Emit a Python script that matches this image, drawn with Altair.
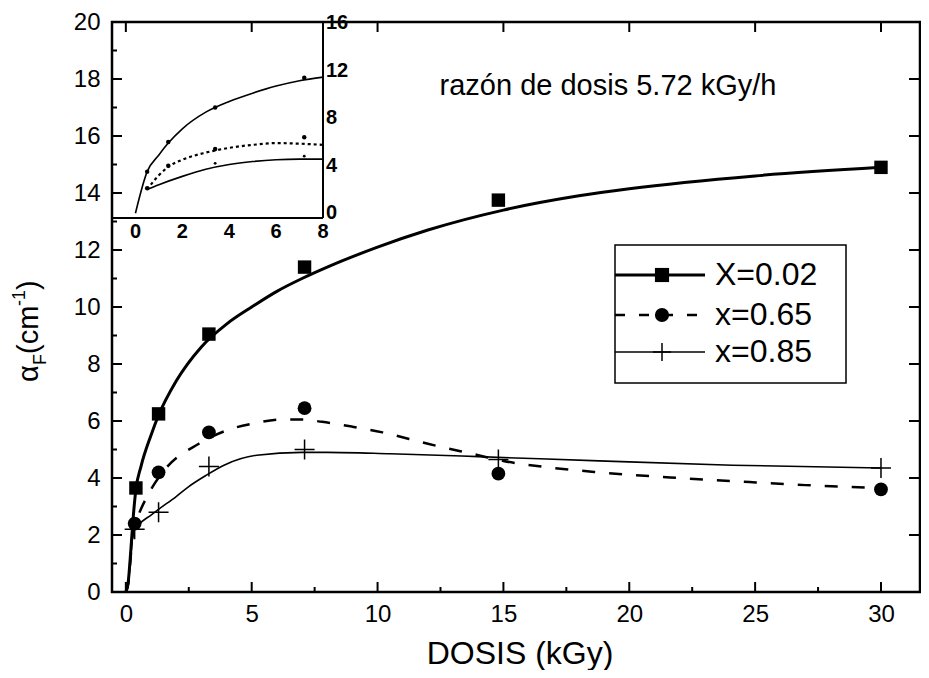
import altair as alt
import pandas as pd

FONT = "Liberation Sans"

# ---------------- data (main plot) ----------------
sq_x = [0.4, 1.3, 3.3, 7.1, 14.8, 30]
sq_y = [3.65, 6.25, 9.05, 11.4, 13.75, 14.9]
ci_x = [0.35, 1.3, 3.3, 7.1, 14.8, 30]
ci_y = [2.4, 4.2, 5.6, 6.45, 4.15, 3.6]
pl_x = [0.35, 1.3, 3.3, 7.1, 14.8, 30]
pl_y = [2.2, 2.8, 4.4, 5.0, 4.65, 4.35]

fit1_x = [0, 0.1, 0.2, 0.3, 0.4, 0.6, 1, 1.3, 2, 3, 4, 5, 6, 7, 8, 10, 12, 15, 18, 20, 25, 30]
fit1_y = [0, 0.4, 1.5, 2.7, 3.6, 4.4, 5.5, 6.2, 7.4, 8.6, 9.4, 10.0, 10.55, 11.0, 11.4, 12.1, 12.7, 13.4, 13.9, 14.15, 14.6, 14.9]
fit2_x = [0, 0.1, 0.2, 0.3, 0.5, 0.7, 1, 1.6, 2.9, 4.1, 5, 6.2, 7, 7.8, 9, 10.2, 12, 14, 15, 17, 18.8, 22, 24.9, 27, 30]
fit2_y = [0, 0.3, 1.3, 2.2, 2.7, 3.1, 3.6, 4.35, 5.2, 5.7, 5.9, 6.05, 6.05, 5.97, 5.8, 5.6, 5.2, 4.8, 4.6, 4.35, 4.2, 4.0, 3.85, 3.75, 3.65]
fit3_x = [0, 0.1, 0.2, 0.3, 0.5, 1, 1.3, 2, 2.5, 3.2, 3.9, 5.2, 7, 8, 10.5, 14, 18.8, 24.1, 30]
fit3_y = [0, 0.3, 1.3, 2.1, 2.35, 2.7, 2.9, 3.35, 3.7, 4.1, 4.45, 4.8, 4.9, 4.9, 4.85, 4.75, 4.6, 4.45, 4.35]

x_major = [0, 5, 10, 15, 20, 25, 30]
x_minor = [2.5, 7.5, 12.5, 17.5, 22.5, 27.5]
y_major = [0, 2, 4, 6, 8, 10, 12, 14, 16, 18, 20]
y_minor = [1, 3, 5, 7, 9, 11, 13, 15, 17, 19]

legend_labels = ["X=0.02", "x=0.65", "x=0.85"]
annotation = "razón de dosis 5.72 kGy/h"
x_title = "DOSIS (kGy)"

# ---------------- data (inset) ----------------
in_top_x = [0, 0.5, 1, 1.4, 2, 3, 4, 5, 6, 7, 8]
in_top_y = [0, 3.5, 4.9, 5.9, 7.1, 8.5, 9.4, 10.1, 10.7, 11.15, 11.45]
in_mid_x = [0.5, 1, 1.4, 2, 3, 4, 5, 6, 7, 8]
in_mid_y = [2.0, 3.2, 3.9, 4.5, 5.1, 5.5, 5.75, 5.9, 5.85, 5.75]
in_low_x = [0.5, 1, 2, 3, 4, 5, 6, 7, 8]
in_low_y = [2.0, 2.4, 3.1, 3.7, 4.1, 4.35, 4.5, 4.55, 4.55]
in_top_px = [0.5, 1.4, 3.4, 7.2]
in_top_py = [3.5, 6.0, 8.9, 11.4]
in_mid_px = [0.5, 1.4, 3.4, 7.2]
in_mid_py = [2.1, 4.0, 5.4, 6.4]
in_low_px = [3.4, 7.2]
in_low_py = [4.2, 4.8]
in_x_ticks = [0, 2, 4, 6, 8]
in_y_ticks = [0, 4, 8, 12, 16]

# ---------------- layout ----------------
W, H = 808, 570
xs = alt.Scale(domain=[-0.55, 31.55], nice=False, zero=False)
ys = alt.Scale(domain=[0, 20], nice=False, zero=False)
xaxis = alt.Axis(values=x_major, title=None, labelPadding=10, labelFlush=False)
yaxis = alt.Axis(values=y_major, title=None, labelPadding=12)
X = alt.X("x:Q", scale=xs, axis=xaxis)
Y = alt.Y("y:Q", scale=ys, axis=yaxis)

one = pd.DataFrame({"a": [0]})


def df(xv, yv):
    return pd.DataFrame({"x": xv, "y": yv})


def txt(text, x, y, size, angle=0, align="left", baseline="alphabetic", weight="normal"):
    return alt.Chart(one).mark_text(
        text=text, font=FONT, fontSize=size, angle=angle, align=align,
        baseline=baseline, fontWeight=weight, color="black"
    ).encode(x=alt.value(x), y=alt.value(y))


PLUS = "M-1,0H1M0,-1V1"

layers = []
# curves
layers.append(alt.Chart(df(fit1_x, fit1_y)).mark_line(color="black", strokeWidth=3, interpolate="monotone").encode(X, Y))
layers.append(alt.Chart(df(fit2_x, fit2_y)).mark_line(color="black", strokeWidth=2.5, strokeDash=[13, 14], interpolate="monotone").encode(X, Y))
layers.append(alt.Chart(df(fit3_x, fit3_y)).mark_line(color="black", strokeWidth=1.6, interpolate="monotone").encode(X, Y))
# points
layers.append(alt.Chart(df(sq_x, sq_y)).mark_point(shape="square", filled=True, size=180, color="black", opacity=1).encode(X, Y))
layers.append(alt.Chart(df(ci_x, ci_y)).mark_point(shape="circle", filled=True, size=190, color="black", opacity=1).encode(X, Y))
layers.append(alt.Chart(df(pl_x, pl_y)).mark_point(shape=PLUS, filled=False, size=400, strokeWidth=1.5, color="black", opacity=1).encode(X, Y))

# inward ticks
def xticks(vals, y1, y2):
    return alt.Chart(pd.DataFrame({"x": vals})).mark_rule(color="black", strokeWidth=2).encode(
        X, y=alt.value(y1), y2=alt.value(y2))


def yticks(vals, x1, x2):
    return alt.Chart(pd.DataFrame({"y": vals})).mark_rule(color="black", strokeWidth=2).encode(
        Y, x=alt.value(x1), x2=alt.value(x2))


layers += [
    xticks(x_major, H, H - 10), xticks(x_minor, H, H - 5), xticks(x_major, 0, 10),
    yticks(y_major, 0, 10), yticks(y_minor, 0, 5), yticks(y_major, W, W - 11),
]

# annotation and titles
layers.append(txt(annotation, 496, 73, 29, align="center"))
layers.append(txt(x_title, 408, 642, 32, align="center"))
# y title: alpha_F(cm^-1), rotated
layers.append(txt("α", -74, 360, 29, angle=270))
layers.append(txt("F", -66, 343, 18, angle=270))
layers.append(txt("(cm", -74, 332, 29, angle=270))
layers.append(txt("-1", -87, 284, 18, angle=270))
layers.append(txt(")", -74, 268, 29, angle=270))

# legend
LX0, LX1, LY0, LY1 = 503, 734, 223, 361
rows = [253, 293, 330]
layers.append(alt.Chart(one).mark_rect(fill="white", stroke="black", strokeWidth=1.5).encode(
    x=alt.value(LX0), x2=alt.value(LX1), y=alt.value(LY0), y2=alt.value(LY1)))
layers.append(alt.Chart(one).mark_rule(color="black", strokeWidth=3).encode(
    x=alt.value(LX0), x2=alt.value(593), y=alt.value(rows[0])))
layers.append(alt.Chart(one).mark_rule(color="black", strokeWidth=2.5, strokeDash=[10, 14]).encode(
    x=alt.value(LX0), x2=alt.value(593), y=alt.value(rows[1])))
layers.append(alt.Chart(one).mark_rule(color="black", strokeWidth=1.6).encode(
    x=alt.value(LX0), x2=alt.value(593), y=alt.value(rows[2])))
layers.append(alt.Chart(one).mark_point(shape="square", filled=True, size=200, color="black", opacity=1).encode(
    x=alt.value(550), y=alt.value(rows[0])))
layers.append(alt.Chart(one).mark_point(shape="circle", filled=True, size=200, color="black", opacity=1).encode(
    x=alt.value(550), y=alt.value(rows[1])))
layers.append(alt.Chart(one).mark_point(shape=PLUS, filled=False, size=324, strokeWidth=1.5, color="black", opacity=1).encode(
    x=alt.value(550), y=alt.value(rows[2])))
for lab, ry in zip(legend_labels, rows):
    layers.append(txt(lab, 603, ry, 32, baseline="middle"))

main = alt.layer(*layers)

# ---------------- inset ----------------
IW, IB, IT = 211, 196, 1
ixs = alt.Scale(domain=[-1, 8], range=[0, IW], nice=False, zero=False)
iys = alt.Scale(domain=[-0.4, 16], range=[IB, IT], nice=False, zero=False)
IX = alt.X("ix:Q", scale=ixs, axis=None)
IY = alt.Y("iy:Q", scale=iys, axis=None)


def idf(xv, yv):
    return pd.DataFrame({"ix": xv, "iy": yv})


ilayers = [
    alt.Chart(idf(in_top_x, in_top_y)).mark_line(color="black", strokeWidth=1.6, interpolate="monotone").encode(IX, IY),
    alt.Chart(idf(in_mid_x, in_mid_y)).mark_line(color="black", strokeWidth=2.2, strokeDash=[3, 3], interpolate="monotone").encode(IX, IY),
    alt.Chart(idf(in_low_x, in_low_y)).mark_line(color="black", strokeWidth=1.6, interpolate="monotone").encode(IX, IY),
    alt.Chart(idf(in_top_px, in_top_py)).mark_point(shape="circle", filled=True, size=20, color="black", opacity=1).encode(IX, IY),
    alt.Chart(idf(in_mid_px, in_mid_py)).mark_point(shape="circle", filled=True, size=20, color="black", opacity=1).encode(IX, IY),
    alt.Chart(idf(in_low_px, in_low_py)).mark_point(shape="circle", filled=True, size=8, color="black", opacity=1).encode(IX, IY),
    alt.Chart(one).mark_rule(color="black", strokeWidth=2).encode(x=alt.value(IW), y=alt.value(0), y2=alt.value(IB)),
    alt.Chart(one).mark_rule(color="black", strokeWidth=2).encode(x=alt.value(0), x2=alt.value(IW), y=alt.value(IB)),
    alt.Chart(pd.DataFrame({"ix": in_x_ticks})).mark_text(font=FONT, fontSize=20, fontWeight="bold", baseline="top", align="center", color="black").encode(
        IX, y=alt.value(IB + 4), text=alt.Text("ix:Q", format="d")),
    alt.Chart(pd.DataFrame({"iy": in_y_ticks})).mark_text(font=FONT, fontSize=20, fontWeight="bold", baseline="middle", align="left", color="black").encode(
        IY, x=alt.value(IW + 3), text=alt.Text("iy:Q", format="d")),
]
inset = alt.layer(*ilayers)

chart = alt.layer(main, inset).resolve_scale(x="independent", y="independent").properties(
    width=W, height=H,
    padding={"left": 104, "top": 14, "right": 1, "bottom": 78},
    autosize=alt.AutoSizeParams(type="none"),
).configure_view(stroke="black", strokeWidth=2.5).configure_axis(
    labelFont=FONT, labelFontSize=24, labelColor="black", domain=False, ticks=False, tickSize=0, grid=False
)

chart.save("out.html", embed_options={"renderer": "svg", "actions": False})
